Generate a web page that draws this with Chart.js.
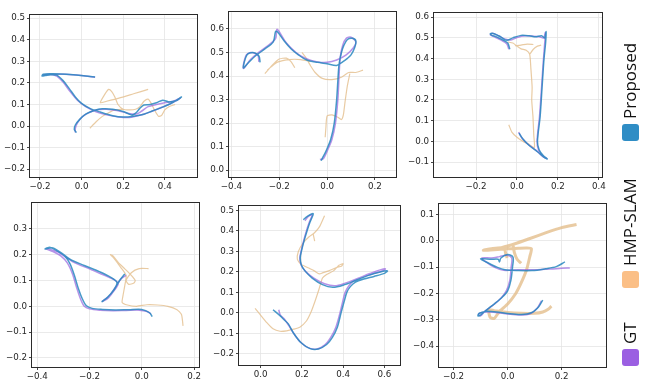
<!DOCTYPE html>
<html><head><meta charset="utf-8">
<script src="https://cdn.jsdelivr.net/npm/chart.js@4.4.1/dist/chart.umd.min.js"></script>
<style>
html,body{margin:0;padding:0;background:#fff;}
body{width:645px;height:383px;position:relative;overflow:hidden;}
canvas{position:absolute;}
.leg{position:absolute;left:622px;transform:rotate(-90deg);transform-origin:top left;display:flex;align-items:center;white-space:nowrap;height:17px;}
.sq{width:17px;height:17px;border-radius:3px;flex:none;}
.lt{font-family:"Open Sans",sans-serif;font-size:17px;color:#111;margin-left:5px;line-height:17px;position:relative;top:-1px;}
</style></head><body>
<script>
// ---------- data (x, y) per subplot, null = break ----------
const s1Proposed=[[0.065,0.228],[0.02,0.232],[-0.04,0.238],[-0.1,0.242],[-0.15,0.243],[-0.185,0.24],[-0.19,0.232],[-0.175,0.234],[-0.15,0.238],[-0.12,0.236],[-0.09,0.212],[-0.06,0.175],[-0.03,0.135],[0.0,0.105],[0.04,0.082],[0.09,0.065],[0.15,0.048],[0.2,0.042],[0.25,0.046],[0.3,0.055],[0.34,0.07],[0.39,0.088],[0.44,0.11],[0.48,0.135],[0.46,0.12],[0.42,0.112],[0.39,0.12],[0.36,0.108],[0.33,0.1],[0.3,0.098],[0.28,0.082],[0.26,0.06],[0.24,0.052],[0.2,0.068],[0.15,0.078],[0.1,0.08],[0.06,0.072],[0.02,0.055],[-0.01,0.03],[-0.03,0.005],[-0.035,-0.015],[-0.025,-0.03]];
const s1GT=[[0.065,0.226],[0.0,0.234],[-0.08,0.24],[-0.15,0.24],[-0.185,0.236],[-0.16,0.24],[-0.12,0.232],[-0.09,0.205],[-0.055,0.16],[-0.02,0.12],[0.02,0.09],[0.07,0.066],[0.12,0.052],[0.18,0.042],[0.23,0.04],[0.28,0.05],[0.33,0.066],[0.38,0.085],[0.43,0.105],[0.475,0.13],[0.44,0.115],[0.4,0.108],[0.36,0.1],[0.32,0.09],[0.29,0.07],[0.26,0.055],[0.22,0.06],[0.17,0.072],[0.12,0.078],[0.07,0.075],[0.03,0.06],[0.0,0.04],[-0.02,0.015],[-0.03,-0.01],[-0.03,-0.03]];
const s1HMP=[[0.32,0.17],[0.25,0.15],[0.18,0.13],[0.12,0.115],[0.09,0.108],[0.11,0.145],[0.13,0.17],[0.145,0.16],[0.16,0.135],[0.175,0.1],[0.2,0.078],[0.23,0.075],[0.26,0.078],[0.28,0.09],[0.3,0.115],[0.32,0.125],[0.335,0.105],[0.35,0.075],[0.37,0.045],[0.385,0.05],[0.4,0.075],[0.42,0.09],[0.45,0.1],null,[0.04,-0.01],[0.07,0.02],[0.1,0.045],[0.13,0.062],[0.16,0.075],[0.2,0.078]];

const s2Proposed=[[-0.28,0.458],[-0.285,0.485],[-0.31,0.5],[-0.335,0.49],[-0.35,0.435],[-0.33,0.455],[-0.3,0.485],[-0.26,0.515],[-0.225,0.545],[-0.215,0.59],[-0.205,0.585],[-0.18,0.55],[-0.15,0.515],[-0.12,0.49],[-0.085,0.468],[-0.04,0.458],[0.0,0.452],[0.04,0.445],[0.065,0.46],[0.085,0.475],[0.1,0.49],[0.115,0.52],[0.12,0.55],[0.105,0.56],[0.085,0.555],[0.07,0.53],[0.06,0.5],[0.05,0.45],[0.045,0.38],[0.04,0.3],[0.03,0.2],[0.015,0.13],[-0.005,0.08],[-0.02,0.05],[-0.025,0.04]];
const s2GT=[[-0.285,0.46],[-0.29,0.49],[-0.32,0.5],[-0.34,0.485],[-0.35,0.432],[-0.32,0.47],[-0.28,0.505],[-0.24,0.535],[-0.215,0.56],[-0.21,0.598],[-0.2,0.588],[-0.17,0.54],[-0.13,0.5],[-0.09,0.475],[-0.04,0.46],[0.0,0.458],[0.04,0.468],[0.08,0.49],[0.11,0.52],[0.12,0.545],[0.1,0.565],[0.08,0.56],[0.065,0.53],[0.055,0.48],[0.05,0.4],[0.045,0.3],[0.035,0.2],[0.02,0.13],[0.0,0.08],[-0.015,0.05],[-0.03,0.045]];
const s2HMP=[[-0.26,0.41],[-0.23,0.445],[-0.2,0.472],[-0.17,0.476],[-0.15,0.46],[-0.135,0.435],null,[-0.25,0.425],[-0.21,0.458],[-0.16,0.47],[-0.11,0.47],[-0.07,0.462],null,[-0.105,0.5],[-0.09,0.48],[-0.07,0.445],[-0.05,0.415],[-0.02,0.39],[0.02,0.385],[0.06,0.395],[0.09,0.415],[0.12,0.415],[0.15,0.425],null,[0.095,0.41],[0.085,0.36],[0.075,0.29],[0.068,0.235],[0.06,0.215],[0.045,0.225],[0.02,0.235],[0.0,0.23],[-0.005,0.18],[-0.008,0.14]];

const s3Proposed=[[-0.035,0.445],[-0.045,0.475],[-0.07,0.49],[-0.1,0.505],[-0.125,0.513],[-0.13,0.52],[-0.112,0.52],[-0.08,0.505],[-0.05,0.488],[-0.02,0.5],[0.02,0.512],[0.06,0.51],[0.09,0.505],[0.12,0.51],[0.135,0.5],[0.142,0.53],[0.14,0.48],[0.132,0.4],[0.123,0.27],[0.113,0.12],[0.1,0.0],[0.108,-0.04],[0.128,-0.068],[0.148,-0.085],[0.13,-0.075],[0.1,-0.05],[0.06,-0.02],[0.03,0.01],[0.01,0.04]];
const s3GT=[[-0.04,0.445],[-0.05,0.472],[-0.08,0.49],[-0.11,0.505],[-0.13,0.515],[-0.12,0.522],[-0.09,0.51],[-0.06,0.495],[-0.03,0.49],[0.0,0.502],[0.04,0.51],[0.08,0.508],[0.11,0.505],[0.13,0.5],[0.138,0.525],[0.135,0.47],[0.128,0.38],[0.12,0.26],[0.11,0.12],[0.098,0.0],[0.105,-0.04],[0.125,-0.07],[0.145,-0.083],[0.125,-0.072],[0.095,-0.045],[0.055,-0.015],[0.025,0.015],[0.008,0.045]];
const s3HMP=[[-0.04,0.08],[-0.025,0.045],[0.0,0.02],[0.03,0.0],[0.06,-0.015],[0.085,-0.03],[0.082,0.03],[0.078,0.12],[0.072,0.2],[0.074,0.26],[0.068,0.35],[0.062,0.42],[0.045,0.44],[0.02,0.447],[0.0,0.46],[-0.02,0.475],[-0.045,0.48],null,[0.062,0.42],[0.08,0.445],[0.1,0.46],[0.118,0.465],null,[-0.01,0.462],[0.02,0.465],[0.05,0.47],[0.08,0.468]];

const s4Proposed=[[0.04,-0.04],[0.03,-0.025],[0.0,-0.012],[-0.05,-0.013],[-0.1,-0.014],[-0.15,-0.012],[-0.19,-0.008],[-0.212,0.002],[-0.228,0.03],[-0.243,0.07],[-0.258,0.12],[-0.275,0.165],[-0.295,0.195],[-0.325,0.215],[-0.35,0.228],[-0.37,0.222],[-0.34,0.226],[-0.305,0.205],[-0.275,0.182],[-0.22,0.158],[-0.16,0.133],[-0.12,0.113],[-0.095,0.092],[-0.108,0.062],[-0.132,0.033],[-0.152,0.018],[-0.13,0.036],[-0.105,0.065],[-0.085,0.1],[-0.065,0.125]];
const s4GT=[[0.035,-0.03],[0.02,-0.02],[-0.01,-0.015],[-0.06,-0.016],[-0.11,-0.017],[-0.16,-0.015],[-0.2,-0.01],[-0.22,0.0],[-0.235,0.03],[-0.25,0.075],[-0.265,0.125],[-0.285,0.168],[-0.31,0.195],[-0.34,0.212],[-0.365,0.222],[-0.35,0.22],[-0.32,0.21],[-0.29,0.19],[-0.26,0.17],[-0.2,0.145],[-0.15,0.123],[-0.11,0.105],[-0.09,0.088],[-0.11,0.055],[-0.13,0.03],[-0.15,0.02],[-0.125,0.04],[-0.1,0.075],[-0.08,0.105],[-0.06,0.12]];
const s4HMP=[[0.026,0.146],[-0.01,0.146],[-0.04,0.13],[-0.06,0.1],[-0.05,0.085],[-0.03,0.09],[-0.025,0.1],[-0.04,0.12],[-0.065,0.145],[-0.09,0.17],[-0.11,0.195],[-0.12,0.2],[-0.11,0.19],[-0.08,0.15],[-0.06,0.12],[-0.065,0.08],[-0.072,0.04],[-0.075,0.015],[-0.055,0.005],[-0.02,0.0],[0.02,0.006],[0.06,0.005],[0.1,0.0],[0.135,-0.013],[0.152,-0.032],[0.158,-0.076]];

const s5Proposed=[[0.207,0.455],[0.225,0.47],[0.255,0.485],[0.24,0.445],[0.228,0.41],[0.213,0.36],[0.2,0.31],[0.192,0.27],[0.197,0.235],[0.215,0.205],[0.25,0.17],[0.3,0.138],[0.35,0.125],[0.4,0.135],[0.46,0.158],[0.52,0.182],[0.58,0.2],[0.615,0.205],[0.6,0.193],[0.55,0.178],[0.5,0.165],[0.46,0.15],[0.435,0.128],[0.418,0.1],[0.405,0.055],[0.39,0.0],[0.372,-0.07],[0.348,-0.12],[0.32,-0.155],[0.28,-0.177],[0.24,-0.175],[0.195,-0.145],[0.16,-0.1],[0.135,-0.055],[0.115,-0.035],[0.095,-0.015],[0.06,0.015]];
const s5GT=[[0.215,0.45],[0.23,0.47],[0.25,0.48],[0.235,0.44],[0.222,0.4],[0.208,0.35],[0.196,0.3],[0.19,0.265],[0.198,0.23],[0.22,0.2],[0.26,0.168],[0.31,0.142],[0.36,0.132],[0.41,0.145],[0.47,0.168],[0.53,0.192],[0.58,0.21],[0.605,0.215],[0.59,0.205],[0.54,0.19],[0.49,0.175],[0.455,0.158],[0.43,0.135],[0.41,0.1],[0.398,0.055],[0.385,0.0],[0.365,-0.07],[0.34,-0.12],[0.31,-0.158],[0.27,-0.178],[0.23,-0.17],[0.19,-0.14],[0.16,-0.1],[0.135,-0.06],[0.115,-0.03],[0.095,-0.01],[0.088,0.015]];
const s5HMP=[[-0.027,0.022],[-0.003,-0.008],[0.03,-0.048],[0.06,-0.078],[0.094,-0.09],[0.126,-0.088],[0.16,-0.08],[0.19,-0.07],[0.222,-0.04],[0.245,0.005],[0.265,0.06],[0.283,0.115],[0.3,0.17],[0.32,0.187],[0.353,0.205],[0.38,0.232],[0.4,0.24],[0.392,0.228],[0.37,0.222],[0.33,0.205],[0.3,0.195],[0.285,0.19],[0.26,0.205],[0.23,0.22],[0.195,0.238],[0.178,0.262],[0.183,0.3],[0.205,0.34],[0.235,0.372],[0.26,0.39],[0.285,0.42],[0.31,0.475],null,[0.255,0.385],[0.262,0.35]];

const s6Proposed=[[0.13,-0.225],[0.115,-0.25],[0.09,-0.272],[0.05,-0.28],[0.0,-0.276],[-0.04,-0.27],[-0.08,-0.268],[-0.105,-0.275],[-0.11,-0.285],[-0.098,-0.28],[-0.08,-0.264],[-0.05,-0.24],[-0.02,-0.214],[0.0,-0.19],[0.012,-0.15],[0.018,-0.1],[0.02,-0.062],[0.0,-0.052],[-0.025,-0.065],[-0.03,-0.08],[-0.035,-0.07],[-0.06,-0.07],[-0.1,-0.068],[-0.07,-0.085],[-0.04,-0.1],[-0.01,-0.11],[0.04,-0.113],[0.09,-0.113],[0.14,-0.106],[0.18,-0.098],[0.212,-0.08]];
const s6GT=[[0.125,-0.228],[0.11,-0.255],[0.085,-0.276],[0.045,-0.282],[0.0,-0.278],[-0.045,-0.272],[-0.085,-0.27],[-0.108,-0.278],[-0.1,-0.285],[-0.085,-0.268],[-0.055,-0.245],[-0.025,-0.218],[-0.005,-0.19],[0.008,-0.15],[0.013,-0.1],[0.015,-0.065],[-0.005,-0.055],[-0.03,-0.06],[-0.06,-0.065],[-0.095,-0.065],[-0.08,-0.08],[-0.05,-0.1],[-0.015,-0.112],[0.04,-0.11],[0.1,-0.11],[0.16,-0.107],[0.2,-0.104],[0.23,-0.103]];
const s6HMP=[[0.255,0.062],[0.2,0.05],[0.14,0.03],[0.08,0.008],[0.03,-0.01],[-0.02,-0.025],[-0.06,-0.03],[-0.09,-0.036],[-0.05,-0.034],[0.0,-0.03],[0.04,-0.028],[0.07,-0.027],[0.088,-0.03],[0.082,-0.06],[0.07,-0.11],[0.05,-0.16],[0.03,-0.2],[0.0,-0.24],[-0.03,-0.268],[-0.05,-0.295],[-0.065,-0.29],[-0.07,-0.262],[-0.05,-0.265],[0.0,-0.272],[0.05,-0.275],[0.1,-0.275],[0.13,-0.27],[0.15,-0.26],[0.162,-0.248],null,[-0.012,-0.022],[-0.008,-0.045],[-0.002,-0.065],null,[0.02,-0.015],[0.025,-0.045],[0.035,-0.07],[0.05,-0.085]];

// tick values
const s1XTicks=[-0.2,0,0.2,0.4], s1YTicks=[-0.2,-0.1,0,0.1,0.2,0.3,0.4,0.5];
const s2XTicks=[-0.4,-0.2,0,0.2], s2YTicks=[0,0.1,0.2,0.3,0.4,0.5,0.6];
const s3XTicks=[-0.2,0,0.2,0.4], s3YTicks=[-0.1,0,0.1,0.2,0.3,0.4,0.5,0.6];
const s4XTicks=[-0.4,-0.2,0,0.2], s4YTicks=[-0.2,-0.1,0,0.1,0.2,0.3];
const s5XTicks=[0,0.2,0.4,0.6], s5YTicks=[-0.2,-0.1,0,0.1,0.2,0.3,0.4,0.5];
const s6XTicks=[-0.2,0,0.2], s6YTicks=[-0.4,-0.3,-0.2,-0.1,0,0.1];

const seriesNames=['Proposed','HMP-SLAM','GT'];
const legendColors=['#2f8dc5','#fbbf86','#9b5fe2'];

// ---------- drawing ----------
const COL_P='rgba(40,135,192,0.85)', COL_H='rgba(228,190,140,0.8)', COL_G='rgba(150,100,222,0.7)';
const toPts=a=>a.map(p=>p?{x:p[0],y:p[1]}:{x:null,y:null});
const fmt=v=>(v<-1e-9?'\u2212':'')+Math.abs(v).toFixed(1);
const frame={id:'frame',afterDraw(c){const a=c.chartArea,x=c.ctx;x.save();x.strokeStyle='#2b2b2b';x.lineWidth=1;x.strokeRect(Math.round(a.left)-0.5,Math.round(a.top)-0.5,Math.round(a.right-a.left)+1,Math.round(a.bottom-a.top)+1);x.restore();}};
const tickFont={family:'"DejaVu Sans"',size:8.7};
function axis(min,max,ticks,isX){
  return {type:'linear',min,max,
    afterBuildTicks:s=>{s.ticks=ticks.map(v=>({value:v}));},
    afterFit:s=>{if(isX)s.height=20;else s.width=32;},
    ticks:{font:tickFont,color:'#262626',padding:2,autoSkip:false,maxRotation:0,callback:fmt},
    grid:{color:'#e4e4e4',lineWidth:0.8,drawTicks:true,tickLength:3,tickColor:'#333',tickWidth:0.9},
    border:{display:false}};
}
function plot(box,xr,yr,xt,yt,gt,hmp,prop,hw){
  const cv=document.createElement('canvas');
  const W=box[2]-box[0]+38,H=box[3]-box[1]+24;
  cv.width=W;cv.height=H;cv.style.left=(box[0]-32)+'px';cv.style.top=(box[1]-4)+'px';
  cv.style.width=W+'px';cv.style.height=H+'px';
  document.body.appendChild(cv);
  new Chart(cv,{type:'scatter',
    data:{datasets:[
      {label:seriesNames[0],data:toPts(prop),showLine:true,borderColor:COL_P,borderWidth:1.5,pointRadius:0,spanGaps:false,tension:0.3},
      {label:seriesNames[2],data:toPts(gt),showLine:true,borderColor:COL_G,borderWidth:1.5,pointRadius:0,spanGaps:false,tension:0.3},
      {label:seriesNames[1],data:toPts(hmp),showLine:true,borderColor:COL_H,borderWidth:hw,pointRadius:0,spanGaps:false,tension:0.2}
    ]},
    options:{responsive:false,animation:false,devicePixelRatio:1,
      layout:{padding:{top:4,right:6,left:0,bottom:0}},
      plugins:{legend:{display:false},tooltip:{enabled:false}},
      scales:{x:axis(xr[0],xr[1],xt,true),y:axis(yr[0],yr[1],yt,false)}},
    plugins:[frame]});
}
plot([30,12,197,177],[-0.248,0.555],[-0.236,0.514],s1XTicks,s1YTicks,s1GT,s1HMP,s1Proposed,1.2);
plot([229,9,396,177],[-0.41,0.288],[-0.029,0.671],s2XTicks,s2YTicks,s2GT,s2HMP,s2Proposed,1.2);
plot([434,10,602,177],[-0.405,0.415],[-0.172,0.619],s3XTicks,s3YTicks,s3GT,s3HMP,s3Proposed,1.2);
plot([32,200,199,367],[-0.42,0.219],[-0.235,0.399],s4XTicks,s4YTicks,s4GT,s4HMP,s4Proposed,1.2);
plot([239,203,400,365],[-0.105,0.676],[-0.255,0.521],s5XTicks,s5YTicks,s5GT,s5HMP,s5Proposed,1.2);
plot([439,201,606,367],[-0.254,0.364],[-0.479,0.139],s6XTicks,s6YTicks,s6GT,s6HMP,s6Proposed,3);

// legend (rotated, bottom-to-top)
const legendBottoms=[141,288,366];
seriesNames.forEach((n,i)=>{
  const d=document.createElement('div');d.className='leg';d.style.top=legendBottoms[i]+'px';
  const sq=document.createElement('div');sq.className='sq';sq.style.background=legendColors[i];
  const t=document.createElement('span');t.className='lt';t.textContent=n;
  d.appendChild(sq);d.appendChild(t);document.body.appendChild(d);
});
</script>
</body></html>
